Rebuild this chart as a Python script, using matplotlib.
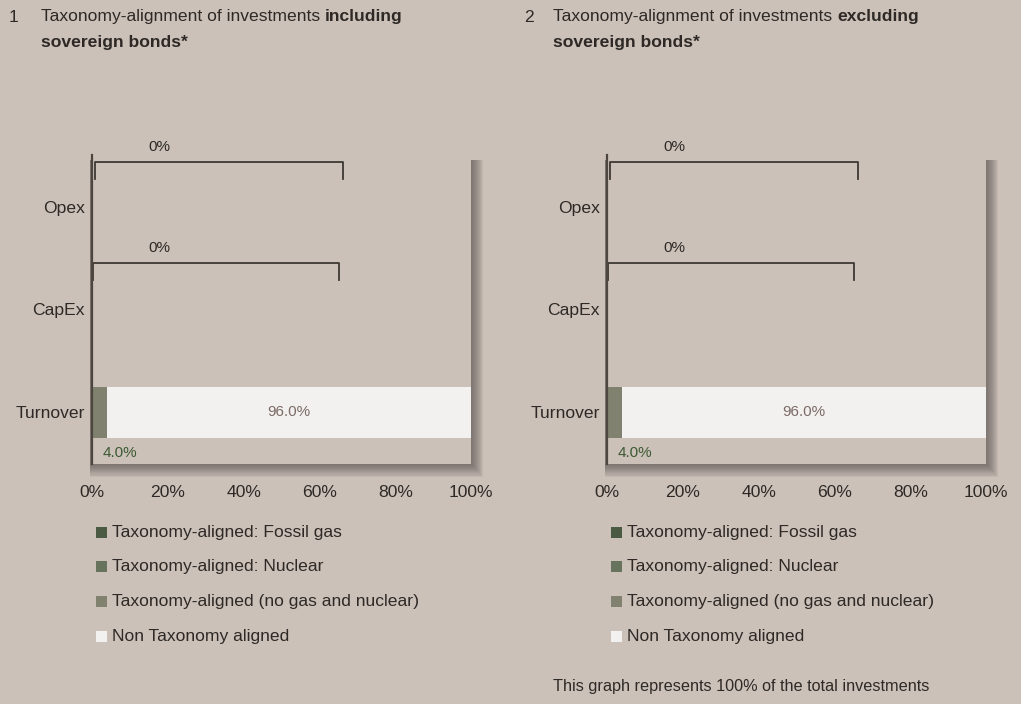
import matplotlib
matplotlib.use("Agg")
import matplotlib.pyplot as plt
from matplotlib.patches import Rectangle
import numpy as np

plt.rcParams['font.family'] = ['Liberation Sans', 'DejaVu Sans']

# categories, bottom to top
categories = ['Turnover', 'CapEx', 'Opex']

# share of investments per category (%)
fossil_gas = [0.0, 0.0, 0.0]
nuclear = [0.0, 0.0, 0.0]
aligned_other = [4.0, 0.0, 0.0]
non_aligned = [96.0, 0.0, 0.0]

# categories that get a bracket with a "0%" note instead of a bar
bracket_labels = {'CapEx': '0%', 'Opex': '0%'}

xticks = [0, 20, 40, 60, 80, 100]
xtick_labels = ['0%', '20%', '40%', '60%', '80%', '100%']

legend_labels = ['Taxonomy-aligned: Fossil gas',
                 'Taxonomy-aligned: Nuclear',
                 'Taxonomy-aligned (no gas and nuclear)',
                 'Non Taxonomy aligned']

titles = [('1', 'Taxonomy-alignment of investments ', 'including', 'sovereign bonds*'),
          ('2', 'Taxonomy-alignment of investments ', 'excluding', 'sovereign bonds*')]

footnote = 'This graph represents 100% of the total investments'

bg = '#cbc1b8'
text_col = '#2e2926'
spine_col = '#4d4540'
colors = ['#4b5a42', '#68735e', '#80826f', '#f3f1ef']
FS = 12.6

fig = plt.figure(figsize=(10.21, 7.04), dpi=100, facecolor=bg)
W, H = 1021, 704


def px_rect(x0, y0, x1, y1):
    # pixel box (top-left origin) -> figure fraction [l, b, w, h]
    return [x0 / W, 1 - y1 / H, (x1 - x0) / W, (y1 - y0) / H]


def add_shadow(x0, y0, x1, y1):
    # soft drop shadow to the right and below the plot area
    for k in range(12):
        off = 1 + k
        l, b, w, h = px_rect(x0 - 2, y0 + 5, x1 + off, y1 + off * 1.05)
        fig.patches.append(Rectangle((l, b), w, h, transform=fig.transFigure,
                                     facecolor='#5e5853', edgecolor='none',
                                     alpha=0.085, zorder=0))


def draw_panel(x0, title, num_x, text_x):
    y0, y1 = 155, 464
    x1 = x0 + 379
    add_shadow(x0, y0, x1, y1)
    ax = fig.add_axes(px_rect(x0, y0, x1, y1))
    ax.set_facecolor(bg)
    ax.set_zorder(1)

    y = np.arange(len(categories))
    left = np.zeros(len(categories))
    for vals, col in zip([fossil_gas, nuclear, aligned_other, non_aligned], colors):
        vals = np.array(vals)
        ax.barh(y, vals, left=left, height=0.5, color=col, edgecolor='none')
        left = left + vals

    # value labels for the Turnover bar
    i = categories.index('Turnover')
    ax.text(aligned_other[i] + non_aligned[i] / 2, y[i], f'{non_aligned[i]:.1f}%',
            ha='center', va='center', fontsize=11, color='#7b6b66')
    ax.text(2.8, y[i] - 0.39, f'{aligned_other[i]:.1f}%', ha='left', va='center',
            fontsize=11, color='#3d5a33')

    # brackets over empty categories
    for cat, lab in bracket_labels.items():
        j = categories.index(cat)
        top = y[j] + 0.43 if cat == 'Opex' else y[j] + 0.45
        bot = top - 0.16
        xl, xr = (0.8, 66.2) if cat == 'Opex' else (0.3, 65.2)
        ax.plot([xl, xl, xr, xr], [bot, top, top, bot], color='#3e3834', lw=1.3,
                solid_joinstyle='round', clip_on=False)
        ax.text(17.7, top + 0.08, lab, ha='center', va='bottom', fontsize=11,
                color=text_col, clip_on=False)

    ax.set_xlim(0, 100)
    ax.set_ylim(-0.5, 2.5)
    ax.set_yticks(y)
    ax.set_yticklabels(categories, fontsize=FS, color=text_col)
    ax.set_xticks(xticks)
    ax.set_xticklabels(xtick_labels, fontsize=FS, color=text_col)
    ax.tick_params(axis='both', length=0)
    ax.tick_params(axis='x', pad=15)
    ax.tick_params(axis='y', pad=5)
    for s in ['top', 'right', 'bottom']:
        ax.spines[s].set_visible(False)
    ax.spines['left'].set_color(spine_col)
    ax.spines['left'].set_linewidth(1.6)

    # title: number, then a line mixing regular and bold, then a bold line
    num, plain, bold, second = title
    fig.text(num_x / W, 1 - 17 / H, num, fontsize=FS, color=text_col, va='center')
    t = fig.text(text_x / W, 1 - 17 / H, plain, fontsize=FS, color=text_col,
                 va='center')
    fig.canvas.draw()
    bb = t.get_window_extent()
    fig.text(bb.x1 / W, 1 - 17 / H, bold, fontsize=FS, color=text_col,
             va='center', fontweight='bold')
    fig.text(text_x / W, 1 - 42 / H, second, fontsize=FS, color=text_col,
             va='center', fontweight='bold')

    # legend
    for k, (lab, col) in enumerate(zip(legend_labels, colors)):
        cy = 532 + k * 34.7
        fig.patches.append(Rectangle(((x0 + 4) / W, 1 - (cy + 5.5) / H), 11 / W, 11 / H,
                                     transform=fig.transFigure, facecolor=col,
                                     edgecolor='none'))
        fig.text((x0 + 20) / W, 1 - cy / H, lab, fontsize=FS, color=text_col,
                 va='center')
    return ax


draw_panel(92, titles[0], 9, 41)
draw_panel(607, titles[1], 524, 553)

fig.text(553 / W, 1 - 686 / H, footnote, fontsize=11.7, color=text_col, va='center')

fig.savefig('out.png', dpi=100, facecolor=bg)
